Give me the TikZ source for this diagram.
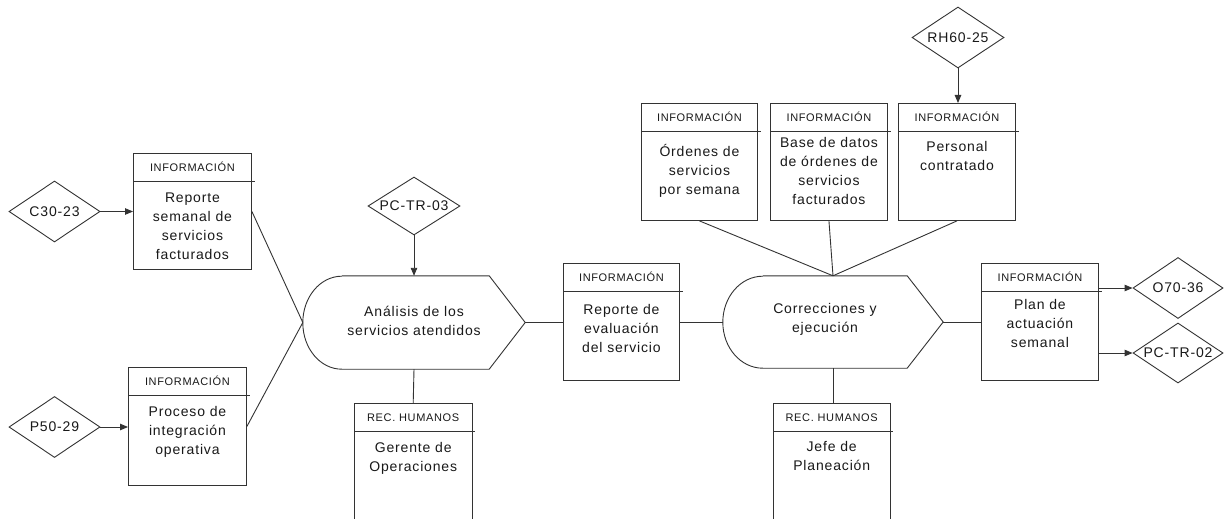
\documentclass[tikz,border=0pt]{standalone}
\usepackage{fontspec}
\setmainfont{Liberation Sans}[LetterSpace=6]
\usetikzlibrary{shapes.geometric,arrows.meta,calc}

\tikzset{
  ln/.style={draw=black!80, line width=0.9pt},
  frame/.style={ln, rectangle, inner sep=0pt, anchor=north west},
  openframe/.style={rectangle, inner sep=0pt, anchor=north west},
  hdr/.style={font=\fontsize{11}{13}\selectfont, inner sep=0pt, anchor=base, text=black!90},
  body/.style={font=\fontsize{14}{19}\selectfont, align=center, inner sep=0pt,
    anchor=north, text=black!90, execute at begin node={\rule{0pt}{13.5pt}}},
  code/.style={ln, diamond, inner sep=0pt, font=\fontsize{14}{16}\selectfont,
    text=black!90, minimum width=91pt, minimum height=61pt},
  holder/.style={rectangle, inner sep=0pt},
  ptext/.style={font=\fontsize{14}{19}\selectfont, align=center, inner sep=0pt, text=black!90},
  flow/.style={ln, -{Triangle[length=8pt,width=6.5pt]}},
}

% zero-width label so the diamond keeps its own size
\newcommand{\codelbl}[1]{\makebox[0pt][c]{#1}}

% card with a header strip: name, x, y, width, height, header, body, body offset
\newcommand{\mkcard}[8]{%
  \node[frame, minimum width=#4pt, minimum height=#5pt] (#1) at (#2,#3) {};
  \draw[ln] ([yshift=-28pt]#1.north west) -- ([yshift=-28pt,xshift=3pt]#1.north east);
  \node[hdr] at ([yshift=-18.5pt]#1.north) {#6};
  \node[body] at ([yshift=-#8pt]#1.north) {#7};
}
% card open at the bottom edge
\newcommand{\mkopencard}[7]{%
  \node[openframe, minimum width=#4pt, minimum height=120pt] (#1) at (#2,#3) {};
  \draw[ln] (#1.south west) |- (#1.north east) -- (#1.south east);
  \draw[ln] ([yshift=-28pt]#1.north west) -- ([yshift=-28pt,xshift=3pt]#1.north east);
  \node[hdr] at ([yshift=-18.5pt]#1.north) {#5};
  \node[body] at ([yshift=-#7pt]#1.north) {#6};
}
% process shape: rounded left side, pointed right side
\newcommand{\mkprocess}[6]{%
  \node[holder, minimum width=#4pt, minimum height=#5pt] (#1) at (#2,#3) {};
  \draw[ln] ([xshift=#6pt]#1.north west) -- ([xshift=-36pt]#1.north east) -- (#1.east)
    -- ([xshift=-36pt]#1.south east) -- ([xshift=#6pt]#1.south west)
    arc[start angle=270, end angle=90, x radius=#6pt, y radius=#5pt/2];
}

\begin{document}
\begin{tikzpicture}[x=1pt, y=-1pt]
  \useasboundingbox[fill=white] (0,0) rectangle (1224,519);

  % information cards
  \mkcard{rep}{133}{153}{118}{116}{INFORMACIÓN}{Reporte\\semanal de\\servicios\\facturados}{40}
  \mkcard{proc}{128}{367}{118}{118}{INFORMACIÓN}{Proceso de\\integración\\operativa}{39}
  \mkcard{eval}{563}{263}{116}{117}{INFORMACIÓN}{Reporte de\\evaluación\\del servicio}{41}
  \mkcard{plan}{981}{263}{117}{117}{INFORMACIÓN}{Plan de\\actuación\\semanal}{36}
  \mkcard{ord}{641}{103}{116}{117}{INFORMACIÓN}{Órdenes de\\servicios\\por semana}{41}
  \mkcard{base}{770}{103}{117}{117}{INFORMACIÓN}{Base de datos\\de órdenes de\\servicios\\facturados}{34}
  \mkcard{pers}{898}{103}{117}{117}{INFORMACIÓN}{Personal\\contratado}{38}

  % human resources cards
  \mkopencard{ger}{354}{403}{118}{REC. HUMANOS}{Gerente de\\Operaciones}{39}
  \mkopencard{jefe}{773}{403}{117}{REC. HUMANOS}{Jefe de\\Planeación}{38}

  % processes
  \mkprocess{an}{414}{322.5}{222}{93}{39}
  \node[ptext] at (414,320.5) {Análisis de los\\servicios atendidos};
  \mkprocess{co}{833}{322}{220}{92}{40}
  \node[ptext] at (825,319.5) {Correcciones y\\ejecución};

  % codes
  \node[code] (c30) at (54.5,211.5) {\codelbl{C30-23}};
  \node[code] (p50) at (54.5,427) {\codelbl{P50-29}};
  \node[code, minimum width=92pt, minimum height=58pt] (pc3) at (414,206) {\codelbl{PC-TR-03}};
  \node[code, minimum width=92pt] (rh) at (958,37.5) {\codelbl{RH60-25}};
  \node[code, minimum width=90pt] (o70) at (1178,288) {\codelbl{O70-36}};
  \node[code, minimum width=90pt, minimum height=60pt] (pc2) at (1178,353) {\codelbl{PC-TR-02}};

  % connectors
  \draw[flow] (c30.east) -- (rep.west |- c30.east);
  \draw[flow] (p50.east) -- (proc.west |- p50.east);
  \draw[ln] (rep.east) -- (an.west);
  \draw[ln] (proc.east) -- (an.west);
  \draw[flow] (pc3.south) -- (an.north);
  \draw[ln] (an.east) -- (eval.west |- an.east);
  \draw[ln] (an.south) -- (ger.north);
  \draw[ln] (eval.east |- co.west) -- (co.west);
  \draw[ln] (ord.south) -- (co.north);
  \draw[ln] (base.south) -- (co.north);
  \draw[ln] (pers.south) -- (co.north);
  \draw[flow] (rh.south) -- (rh.south |- pers.north);
  \draw[ln] (co.east) -- (plan.west |- co.east);
  \draw[ln] (co.south) -- (co.south |- jefe.north);
  \draw[flow] (plan.east |- o70.west) -- (o70.west);
  \draw[flow] (plan.east |- pc2.west) -- (pc2.west);
\end{tikzpicture}
\end{document}
